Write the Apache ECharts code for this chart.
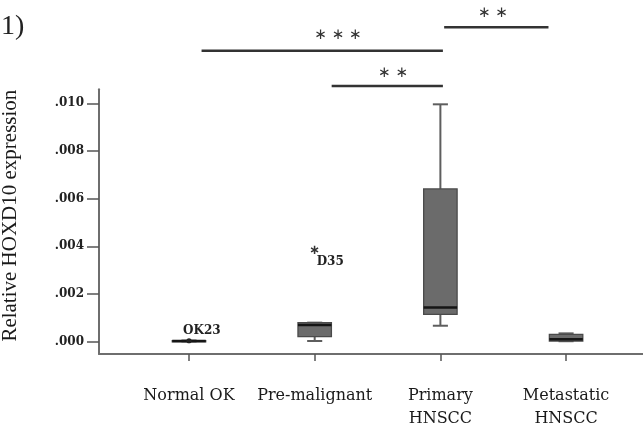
<!DOCTYPE html>
<html><head><meta charset="utf-8">
<script src="https://cdn.jsdelivr.net/npm/echarts@6/dist/echarts.min.js"></script>
<style>html,body{margin:0;padding:0;background:#fff}#c{width:643px;height:425px}</style>
</head><body><div id="c"></div>
<script>
const categories = ['Normal OK', 'Pre-malignant', 'Primary\nHNSCC', 'Metastatic\nHNSCC'];
const categoryPos = [1, 2, 3, 4];
const boxMin    = [0.00001, 0.00003, 0.00067, 0.00002];
const boxQ1     = [0.00002, 0.00021, 0.00115, 0.00003];
const boxMedian = [0.00003, 0.00070, 0.00143, 0.00010];
const boxQ3     = [0.00004, 0.00080, 0.00641, 0.00031];
const boxMax    = [0.00005, 0.00080, 0.00996, 0.00035];
const outlierCat = [0, 1];
const outlierVal = [0.00004, 0.00384];
const outlierLabel = ['OK23', 'D35'];
const outlierType = ['circle', 'extreme'];
const yTicks = [0, 0.002, 0.004, 0.006, 0.008, 0.010];
const sigFrom = [1.10, 2.135, 3.03];
const sigTo = [3.02, 3.02, 3.86];
const sigLevel = [0.01221, 0.01073, 0.01319];
const sigText = ['\u2217 \u2217 \u2217', '\u2217 \u2217', '\u2217 \u2217'];
const sigTextX = [2.185, 2.623, 3.418];
const sigTextLevel = [0.01287, 0.01128, 0.01378];

const boxData = categoryPos.map((x, i) => [x, boxMin[i], boxQ1[i], boxMedian[i], boxQ3[i], boxMax[i]]);
const outlierData = outlierCat.map((c, i) => [categoryPos[c], outlierVal[i], i]);
const sigData = sigFrom.map((f, i) => [f, sigTo[i], sigLevel[i], sigTextX[i], sigTextLevel[i], i]);

const serif = 'Liberation Serif';
const wideSerif = 'DejaVu Serif';

function renderBox(params, api) {
  const x = api.value(0);
  const pMin = api.coord([x, api.value(1)]);
  const pQ1 = api.coord([x, api.value(2)]);
  const pMed = api.coord([x, api.value(3)]);
  const pQ3 = api.coord([x, api.value(4)]);
  const pMax = api.coord([x, api.value(5)]);
  const hw = api.size([0.133, 0])[0];
  const cw = api.size([0.06, 0])[0];
  const cx = pMed[0];
  const wStyle = {stroke: '#5e5e5e', lineWidth: 2};
  return {type: 'group', children: [
    {type: 'line', shape: {x1: cx, y1: pMin[1], x2: cx, y2: pQ1[1]}, style: wStyle},
    {type: 'line', shape: {x1: cx, y1: pQ3[1], x2: cx, y2: pMax[1]}, style: wStyle},
    {type: 'line', shape: {x1: cx - cw, y1: pMin[1], x2: cx + cw, y2: pMin[1]}, style: wStyle},
    {type: 'line', shape: {x1: cx - cw, y1: pMax[1], x2: cx + cw, y2: pMax[1]}, style: wStyle},
    {type: 'rect', shape: {x: cx - hw, y: pQ3[1], width: 2 * hw, height: Math.max(pQ1[1] - pQ3[1], 1)},
      style: {fill: '#6b6b6b', stroke: '#4a4a4a', lineWidth: 1.3}},
    {type: 'line', shape: {x1: cx - hw, y1: pMed[1], x2: cx + hw, y2: pMed[1]}, style: {stroke: '#151515', lineWidth: 2.5}}
  ]};
}

function renderOutlier(params, api) {
  const p = api.coord([api.value(0), api.value(1)]);
  const i = api.value(2);
  const type = outlierType[i];
  const children = [];
  if (type === 'circle') {
    children.push({type: 'circle', shape: {cx: p[0], cy: p[1], r: 2.6}, style: {fill: '#222'}});
    children.push({type: 'text', x: p[0] - 6, y: p[1] - 10, style: {text: outlierLabel[i], fontFamily: wideSerif,
      fontWeight: 'bold', fontSize: 12, fill: '#222', verticalAlign: 'middle', align: 'left'}});
  } else {
    children.push({type: 'text', x: p[0], y: p[1], style: {text: '\u2217', fontFamily: 'DejaVu Sans',
      fontWeight: 'bold', fontSize: 13, fill: '#333', verticalAlign: 'middle', align: 'center'}});
    children.push({type: 'text', x: p[0] + 2, y: p[1] + 12, style: {text: outlierLabel[i], fontFamily: wideSerif,
      fontWeight: 'bold', fontSize: 12, fill: '#222', verticalAlign: 'middle', align: 'left'}});
  }
  return {type: 'group', children};
}

function renderSig(params, api) {
  const a = api.coord([api.value(0), api.value(2)]);
  const b = api.coord([api.value(1), api.value(2)]);
  const t = api.coord([api.value(3), api.value(4)]);
  const i = api.value(5);
  return {type: 'group', children: [
    {type: 'line', shape: {x1: a[0], y1: a[1], x2: b[0], y2: b[1]}, style: {stroke: '#333', lineWidth: 2.5}},
    {type: 'text', x: t[0], y: t[1], style: {text: sigText[i], fontFamily: 'DejaVu Sans', fontSize: 15,
      fill: '#333', align: 'center', verticalAlign: 'middle'}}
  ]};
}

const chart = echarts.init(document.getElementById('c'), null, {renderer: 'canvas'});
chart.setOption({
  animation: false,
  backgroundColor: '#fff',
  title: {text: '1)', left: -4, top: 8, textStyle: {fontFamily: serif, fontSize: 28, fontWeight: 'normal', color: '#222'}},
  grid: {left: 99, right: 0, top: 89.3, bottom: 71, outerBoundsMode: 'none'},
  xAxis: {
    type: 'value', min: 0.284, max: 4.612,
    splitLine: {show: false},
    axisLine: {show: true, onZero: false, lineStyle: {color: '#6e6e6e', width: 2}},
    axisTick: {show: true, customValues: categoryPos, length: 7, lineStyle: {color: '#555', width: 1.5}},
    axisLabel: {customValues: categoryPos, formatter: v => categories[Math.round(v) - 1] || '',
      margin: 30, fontFamily: wideSerif, fontSize: 16, color: '#1a1a1a', lineHeight: 23}
  },
  yAxis: {
    type: 'value', min: -0.000516, max: 0.01059,
    splitLine: {show: false},
    axisLine: {show: true, onZero: false, lineStyle: {color: '#6e6e6e', width: 2}},
    axisTick: {show: true, customValues: yTicks, length: 12, lineStyle: {color: '#555', width: 1.5}},
    axisLabel: {customValues: yTicks, formatter: v => v.toFixed(3).replace(/^0/, ''),
      margin: 15, fontFamily: wideSerif, fontWeight: 'bold', fontSize: 12, color: '#222'},
    name: 'Relative HOXD10 expression', nameLocation: 'middle', nameRotate: 90, nameGap: 78,
    nameTextStyle: {fontFamily: serif, fontSize: 21, color: '#1a1a1a', padding: [0, 0, 0, 12]}
  },
  series: [
    {type: 'custom', renderItem: renderBox, data: boxData, clip: false, encode: {x: 0, y: [1, 2, 3, 4, 5]}},
    {type: 'custom', renderItem: renderOutlier, data: outlierData, clip: false, encode: {x: 0, y: 1}},
    {type: 'custom', renderItem: renderSig, data: sigData, clip: false, encode: {x: [0, 1, 3], y: [2, 4]}}
  ]
});
</script></body></html>
